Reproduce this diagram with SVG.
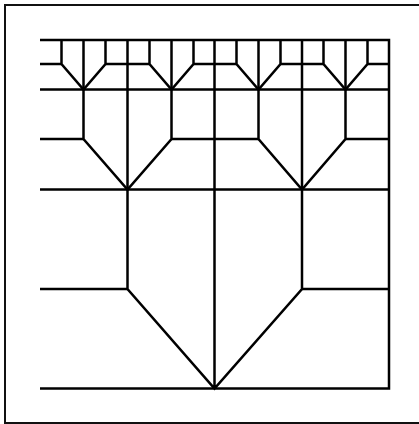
<svg xmlns="http://www.w3.org/2000/svg" width="419" height="424" viewBox="0 0 419 424">
<style>
.frame{fill:none;stroke:#111;stroke-width:2}
.l{fill:none;stroke:#000;stroke-width:2.5}
</style>
<rect width="419" height="424" fill="#fff"/>
<rect class="frame" x="5" y="5" width="420" height="418"/>
<g id="connectors">
<path class="l" d="M40 40H389V388.500H40"/>
<path class="l" d="M40 64H61.500M105.500 64H149.500M193.500 64H236.500M280.500 64H323.500M367.500 64H389"/>
<path class="l" d="M40 89.500H389M40 139H83.500M171.500 139H258.500M345.500 139H389M40 189.500H389M40 289H127.500M301.500 289H389"/>
<path class="l" d="M61.500 40V64L83.500 89.500L105.500 64V40M149.500 40V64L171.500 89.500L193.500 64V40M236.500 40V64L258.500 89.500L280.500 64V40M323.500 40V64L345.500 89.500L367.500 64V40"/>
<path class="l" d="M83.500 40V139L127.500 189.500L171.500 139V40M258.500 40V139L302 189.500L345.500 139V40"/>
<path class="l" d="M127.500 40V289L214.500 388.500L302 289V40M214.500 40V388.500"/>
</g>
</svg>
